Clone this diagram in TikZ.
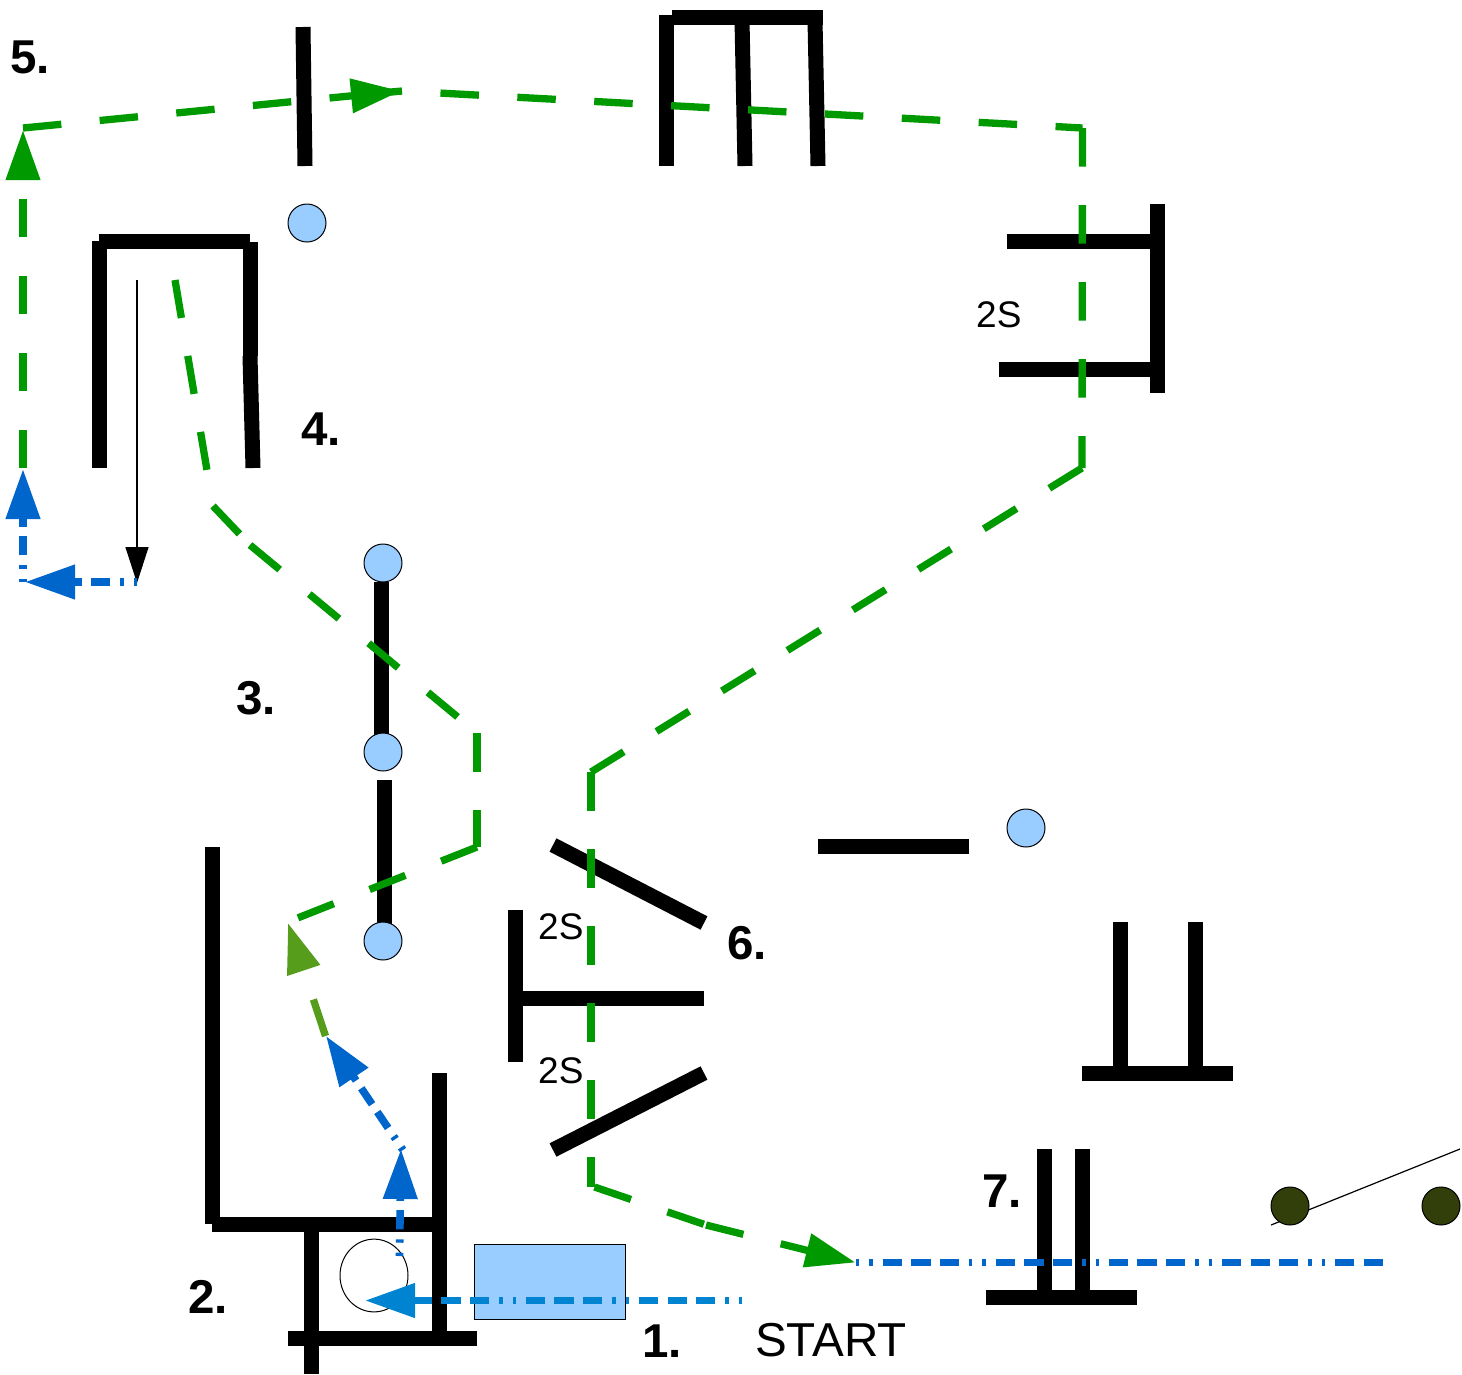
\documentclass[tikz,border=0pt]{standalone}
\usepackage{fontspec}
\setmainfont{Liberation Sans}
\usetikzlibrary{arrows.meta}
\definecolor{flowgreen}{HTML}{009900}
\definecolor{flowolive}{HTML}{579D1C}
\definecolor{flowblue}{HTML}{0066CC}
\definecolor{flowcyan}{HTML}{0084D1}
\definecolor{paleblue}{HTML}{99CCFF}
\definecolor{darkolive}{HTML}{333F0B}
\tikzset{
  wall/.style={line width=15pt,black},
  greendash/.style={line width=7.3pt,flowgreen,dash pattern=on 38.5pt off 38.5pt},
  olivedash/.style={line width=7.3pt,flowolive,dash pattern=on 38.5pt off 38.5pt},
  bluedash/.style={line width=7.6pt,flowblue,dash pattern=on 3.3pt off 10pt on 3.3pt off 10pt on 19.3pt off 9.3pt on 19.3pt off 9.3pt on 19.3pt off 10pt},
  cyandash/.style={bluedash,flowcyan},
  head/.style={-{Triangle[length=50pt,width=33pt]}},
  thin line/.style={line width=1.2pt,black},
  pole/.style={circle,draw=black,line width=1pt,fill=paleblue,minimum size=38pt,inner sep=0pt},
  cone/.style={circle,draw=black,line width=1pt,fill=darkolive,minimum size=38pt,inner sep=0pt},
  bignum/.style={anchor=base west,inner sep=0pt,font=\fontsize{47.5}{47.5}\selectfont\bfseries},
  smalltext/.style={anchor=base west,inner sep=0pt,font=\fontsize{37}{37}\selectfont},
  starttext/.style={anchor=base west,inner sep=0pt,font=\fontsize{47.6}{47.6}\selectfont}
}
\begin{document}
\begin{tikzpicture}[x=1pt,y=-1pt]
\useasboundingbox (0,0) rectangle (1462,1374);

% thin line behind the cones
\coordinate (cl1) at (1271,1225);
\coordinate (cl2) at (1460,1149);
\draw[thin line] (cl1) -- (cl2);

% obstacles
\draw[wall] (303,27) -- (305,166);
\draw[wall] (672,17) -- (823,17);
\draw[wall] (666,15) -- (666,166);
\draw[wall] (742,20) -- (745,166);
\draw[wall] (815,20) -- (818,166);
\draw[wall] (1157.5,204) -- (1157.5,393);
\draw[wall] (1007,241) -- (1151,241);
\draw[wall] (999,369) -- (1151,369);
\draw[wall] (99,241) -- (99,468);
\draw[wall] (99,241) -- (250,241);
\draw[wall] (250,242) -- (250,356);
\draw[wall] (250,356) -- (253,468);
\draw[wall] (381,582) -- (381,735);
\draw[wall] (384,780) -- (384,925);
\draw[wall] (212.500,847) -- (212.500,1224);
\draw[wall] (212,1224) -- (440,1224);
\draw[wall] (439.500,1073) -- (439.500,1335);
\draw[wall] (311.500,1224) -- (311.500,1374);
\draw[wall] (288,1338) -- (477,1338);
\draw[wall] (515,910) -- (515,1062);
\draw[wall] (515,998) -- (704,998);
\draw[wall] (553,845) -- (704,923);
\draw[wall] (553,1150) -- (704,1073);
\draw[wall] (818,846.500) -- (969,846.500);
\draw[wall] (1120,922) -- (1120,1073);
\draw[wall] (1195,922) -- (1195,1073);
\draw[wall] (1082,1073) -- (1233,1073);
\draw[wall] (1044,1149) -- (1044,1297);
\draw[wall] (1082,1149) -- (1082,1297);
\draw[wall] (986,1297.500) -- (1137,1297.500);

% start box and small circle
\node[draw=black,line width=1pt,fill=paleblue,minimum width=151.500pt,minimum height=75pt,inner sep=0pt] (box) at (550,1281.500) {};
\node[draw=black,line width=1pt,circle,inner sep=0pt,minimum size=68pt,yscale=1.07] (spot) at (374,1275.500) {};

% poles and cones
\node[pole] (p1) at (307,223) {};
\node[pole] (p2) at (383,563) {};
\node[pole] (p3) at (383,752) {};
\node[pole] (p4) at (383,941) {};
\node[pole] (p5) at (1026,828) {};
\node[cone] (c1) at (1290,1206) {};
\node[cone] (c2) at (1441,1206) {};

% way points
\coordinate (g1) at (175,280);
\coordinate (g2) at (213,506);
\coordinate (g3) at (250,545);
\coordinate (g4) at (477,733);
\coordinate (g5) at (477,847);
\coordinate (g6) at (290,921);
\coordinate (o1) at (325.500,1036);
\coordinate (o2) at (288,923);
\coordinate (b0) at (742,1300.500);
\coordinate (b1) at (365,1300.500);
\coordinate (b2) at (399.500,1256);
\coordinate (b3) at (401,1149);
\coordinate (b4) at (403,1150);
\coordinate (b5) at (326,1036);
\coordinate (t0) at (137,280);
\coordinate (t1) at (137,583);
\coordinate (b6) at (137,582);
\coordinate (b7) at (25,582);
\coordinate (b8) at (23,582);
\coordinate (b9) at (23,469);
\coordinate (g7) at (23,468);
\coordinate (g8) at (23,130);
\coordinate (g9) at (23,128);
\coordinate (g10) at (401,91);
\coordinate (g10b) at (388,92.300);
\coordinate (g11) at (402,91);
\coordinate (g12) at (1082.500,128);
\coordinate (g13) at (1082,468);
\coordinate (g14) at (591,772);
\coordinate (g15) at (591,1187);
\coordinate (g15b) at (594.500,1187);
\coordinate (g16) at (706,1225);
\coordinate (g17) at (855.500,1262.500);
\coordinate (b10) at (856,1262.500);
\coordinate (b11) at (1385,1262.500);

% flows
\draw[greendash] (g1) -- (g2);
\draw[greendash] (g2) -- (g3);
\draw[greendash] (g3) -- (g4);
\draw[greendash] (g4) -- (g5);
\draw[greendash] (g5) -- (g6);
\draw[olivedash,head] (o1) -- (o2);
\draw[cyandash,head] (b0) -- (b1);
\draw[bluedash,head] (b2) -- (b3);
\draw[bluedash,head] (b4) -- (b5);
\draw[thin line,-{Triangle[length=36pt,width=23pt]}] (t0) -- (t1);
\draw[bluedash,head] (b6) -- (b7);
\draw[bluedash,head] (b8) -- (b9);
\draw[greendash,head] (g7) -- (g8);
\draw[greendash,head] (g9) -- (g10);
\draw[line width=7.3pt,flowgreen] (g10b) -- (g11);
\draw[greendash,dash phase=38.5pt] (g11) -- (g12);
\draw[greendash] (g12) -- (g13);
\draw[greendash] (g13) -- (g14);
\draw[greendash] (g14) -- (g15);
\draw[greendash] (g15b) -- (g16);
\draw[greendash,head] (g16) -- (g17);
\draw[bluedash] (b10) -- (b11);

% labels
\node[bignum] (n1) at (642,1357) {1.};
\node[bignum] (n2) at (188,1313) {2.};
\node[bignum] (n3) at (236,714) {3.};
\node[bignum] (n4) at (301,445) {4.};
\node[bignum] (n5) at (10,73) {5.};
\node[bignum] (n6) at (727,959) {6.};
\node[bignum] (n7) at (982,1207) {7.};
\node[starttext] (st) at (755,1356) {START};
\node[smalltext] (s1) at (976,327) {2S};
\node[smalltext] (s2) at (538,939) {2S};
\node[smalltext] (s3) at (538,1083) {2S};
\end{tikzpicture}
\end{document}
